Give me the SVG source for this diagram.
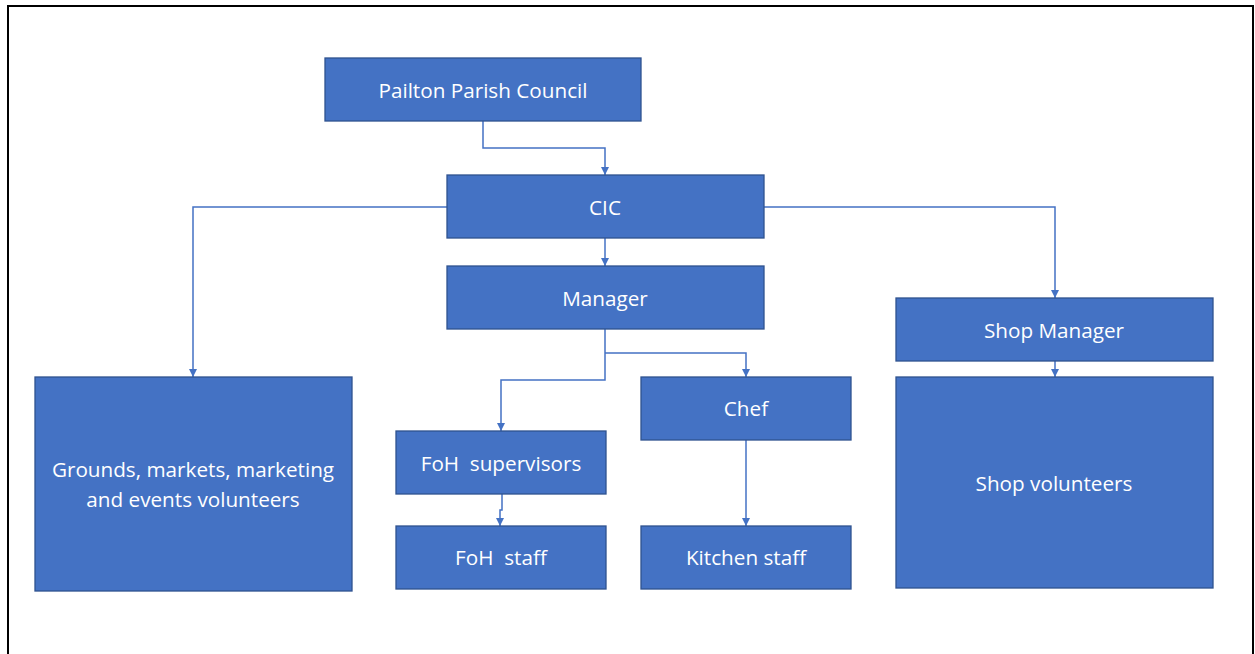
<svg xmlns="http://www.w3.org/2000/svg" width="1255" height="654" viewBox="0 0 1255 654">
<defs>
<marker id="arr" viewBox="0 0 8 8" refX="8" refY="4" markerWidth="8" markerHeight="8" markerUnits="userSpaceOnUse" orient="auto">
<path d="M0,0 L8,4 L0,8 Z" fill="#4472C4"/>
</marker>
<style>
.box{fill:#4472C4;stroke:#2F528F;stroke-width:1.3}
.lbl{fill:#FFFFFF;font-family:"Open Sans","Liberation Sans",sans-serif;font-size:20.7px;text-anchor:middle;dominant-baseline:central}
.con{fill:none;stroke:#4472C4;stroke-width:1.5;marker-end:url(#arr)}
</style>
</defs>
<rect x="0" y="0" width="1255" height="654" fill="#FFFFFF"/>
<path d="M8,654 V6 H1253 V654" fill="none" stroke="#000000" stroke-width="2"/>
<g id="connectors">
<path class="con" d="M483,121 V148 H605 V175"/>
<path class="con" d="M447,207 H193 V377"/>
<path class="con" d="M764,207 H1055 V298"/>
<path class="con" d="M605,238 V266"/>
<path class="con" d="M605,329 V380 H501 V431"/>
<path class="con" d="M605,353 H746 V377"/>
<path class="con" d="M502,494 V510 H500 V526"/>
<path class="con" d="M746,440 V526"/>
<path class="con" d="M1055,361 V377"/>
</g>
<g id="pailton"><rect class="box" x="325" y="58" width="316" height="63"/><text class="lbl" x="483" y="90">Pailton Parish Council</text></g>
<g id="cic"><rect class="box" x="447" y="175" width="317" height="63"/><text class="lbl" x="605" y="207">CIC</text></g>
<g id="manager"><rect class="box" x="447" y="266" width="317" height="63"/><text class="lbl" x="605" y="298">Manager</text></g>
<g id="grounds"><rect class="box" x="35" y="377" width="317" height="214"/><text class="lbl" x="193" y="469">Grounds, markets, marketing</text><text class="lbl" x="193" y="499">and events volunteers</text></g>
<g id="foh-sup"><rect class="box" x="396" y="431" width="210" height="63"/><text class="lbl" x="501" y="463" xml:space="preserve">FoH  supervisors</text></g>
<g id="foh-staff"><rect class="box" x="396" y="526" width="210" height="63"/><text class="lbl" x="501" y="557" xml:space="preserve">FoH  staff</text></g>
<g id="chef"><rect class="box" x="641" y="377" width="210" height="63"/><text class="lbl" x="746" y="408">Chef</text></g>
<g id="kitchen"><rect class="box" x="641" y="526" width="210" height="63"/><text class="lbl" x="746" y="557">Kitchen staff</text></g>
<g id="shop-manager"><rect class="box" x="896" y="298" width="317" height="63"/><text class="lbl" x="1054" y="330">Shop Manager</text></g>
<g id="shop-volunteers"><rect class="box" x="896" y="377" width="317" height="211"/><text class="lbl" x="1054" y="483">Shop volunteers</text></g>
</svg>
